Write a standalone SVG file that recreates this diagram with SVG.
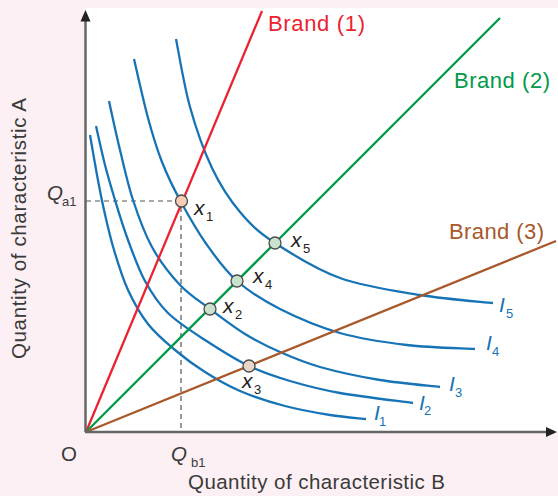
<svg xmlns="http://www.w3.org/2000/svg" width="558" height="496" viewBox="0 0 558 496">
<defs>
<style>
.curve{fill:none;stroke:#1673b6;stroke-width:2.3;stroke-linecap:butt}
.ray{fill:none;stroke-width:2.3}
.lbl{font-family:"Liberation Sans",Arial,sans-serif}
.ax{font-family:"Liberation Sans",Arial,sans-serif;font-size:20.5px;fill:#3a3a3a}
.it{font-style:italic}
.pt{stroke:#4a4a4a;stroke-width:1.3}
.dash{stroke:#555;stroke-width:1.2;stroke-dasharray:5 4;fill:none}
</style>
</defs>
<rect x="0" y="0" width="558" height="496" fill="#fdf0f4"/>
<rect x="85" y="8" width="473" height="424" fill="#ffffff"/>

<g id="guides">
<path class="dash" d="M86,201 H176"/>
<path class="dash" d="M181,207 V431"/>
</g>

<g id="indifference-curves">
<path id="I1" class="curve" d="M90,135 C91.2,141.7 94.7,162.5 97,175 C99.3,187.5 101.2,197.5 104,210 C106.8,222.5 110,236.7 114,250 C118,263.3 122.3,277.7 128,290 C133.7,302.3 140.2,314 148,324 C155.8,334 165.5,342 175,350 C184.5,358 194.2,365.2 205,372 C215.8,378.8 226.7,385.3 240,391 C253.3,396.7 270,402 285,406 C300,410 316.5,412.8 330,415 C343.5,417.2 360,418.3 366,419"/>
<path id="I2" class="curve" d="M96,126 C97.5,132.5 101.8,152.7 105,165 C108.2,177.3 111.2,187.5 115,200 C118.8,212.5 123,226.5 128,240 C133,253.5 138.3,268.8 145,281 C151.7,293.2 158,303.2 168,313 C178,322.8 191.5,331.2 205,340 C218.5,348.8 234.8,359.2 249,366 C263.2,372.8 274.8,376.5 290,381 C305.2,385.5 319.5,389.3 340,393 C360.5,396.7 400.8,401.3 413,403"/>
<path id="I3" class="curve" d="M109,101 C110.8,109.2 116,133.5 120,150 C124,166.5 127.7,183.8 133,200 C138.3,216.2 144.2,232.8 152,247 C159.8,261.2 170.3,274.7 180,285 C189.7,295.3 199.2,300.8 210,309 C220.8,317.2 233.3,326.8 245,334 C256.7,341.2 267.5,346.5 280,352 C292.5,357.5 303.3,362.3 320,367 C336.7,371.7 360,376.7 380,380 C400,383.3 430,385.8 440,387"/>
<path id="I4" class="curve" d="M134,59 C136.3,68.8 143.3,100.8 148,118 C152.7,135.2 156.5,148 162,162 C167.5,176 173.5,188.2 181,202 C188.5,215.8 197.7,231.8 207,245 C216.3,258.2 224.8,270.3 237,281 C249.2,291.7 262.8,300.3 280,309 C297.2,317.7 318.8,327 340,333 C361.2,339 384.5,342.3 407,345 C429.5,347.7 463.7,348.3 475,349"/>
<path id="I5" class="curve" d="M176,39 C178.3,50.3 184,85.5 190,107 C196,128.5 203.7,150.5 212,168 C220.3,185.5 229.5,199.5 240,212 C250.5,224.5 258.3,232 275,243 C291.7,254 315.8,269.3 340,278 C364.2,286.7 394.5,290.8 420,295 C445.5,299.2 480.8,301.7 493,303"/>
</g>

<g id="brand-rays">
<line id="brand1" class="ray" x1="86" y1="432" x2="262" y2="11" stroke="#ec2230"/>
<line id="brand2" class="ray" x1="86" y1="432" x2="500" y2="18" stroke="#009a4a"/>
<line id="brand3" class="ray" x1="86" y1="432" x2="556" y2="241" stroke="#a8582a"/>
</g>

<g id="axes">
<path d="M85.5,432 V20" stroke="#666" stroke-width="2.5" fill="none"/>
<path d="M85,432 H548" stroke="#666" stroke-width="2.5" fill="none"/>
<path d="M85.5,10 L80.5,21.5 L90.5,21.5 Z" fill="#222"/>
<path d="M557,432 L546,427 L546,437 Z" fill="#222"/>
</g>

<g id="points">
<g id="x1"><circle class="pt" cx="181.5" cy="201" r="6" fill="#f7cdb6"/><text class="lbl it" x="194" y="215" font-size="21" fill="#222">x<tspan font-style="normal" font-size="13" x="206" y="221">1</tspan></text></g>
<g id="x2"><circle class="pt" cx="210" cy="309" r="6" fill="#c9e2cd"/><text class="lbl it" x="223" y="313" font-size="21" fill="#222">x<tspan font-style="normal" font-size="13" x="235" y="319">2</tspan></text></g>
<g id="x3"><circle class="pt" cx="249" cy="366" r="6" fill="#ead6c8"/><text class="lbl it" x="242" y="388" font-size="21" fill="#222">x<tspan font-style="normal" font-size="13" x="254" y="394">3</tspan></text></g>
<g id="x4"><circle class="pt" cx="237" cy="281" r="6" fill="#c9e2cd"/><text class="lbl it" x="253" y="283" font-size="21" fill="#222">x<tspan font-style="normal" font-size="13" x="265" y="289">4</tspan></text></g>
<g id="x5"><circle class="pt" cx="275" cy="243" r="6" fill="#c9e2cd"/><text class="lbl it" x="291" y="247" font-size="21" fill="#222">x<tspan font-style="normal" font-size="13" x="303" y="253">5</tspan></text></g>
</g>

<g id="curve-labels" class="lbl" fill="#1673b6">
<text class="it" x="499" y="312" font-size="21">I<tspan font-style="normal" font-size="13" x="506" y="318">5</tspan></text>
<text class="it" x="486" y="350" font-size="21">I<tspan font-style="normal" font-size="13" x="492" y="356">4</tspan></text>
<text class="it" x="449" y="391" font-size="21">I<tspan font-style="normal" font-size="13" x="455" y="397">3</tspan></text>
<text class="it" x="419" y="410" font-size="21">I<tspan font-style="normal" font-size="13" x="424" y="415">2</tspan></text>
<text class="it" x="374" y="420" font-size="21">I<tspan font-style="normal" font-size="13" x="379" y="426">1</tspan></text>
</g>

<g id="brand-labels" class="lbl" font-size="22">
<text x="268" y="31" fill="#ec2230" textLength="97">Brand (1)</text>
<text x="454" y="88" fill="#009a4a" textLength="96">Brand (2)</text>
<text x="449" y="239" fill="#a8582a" textLength="95">Brand (3)</text>
</g>

<g id="axis-labels">
<text class="ax" x="61" y="461">O</text>
<text class="ax it" x="47" y="200">Q<tspan font-style="normal" font-size="13" x="62" y="206">a1</tspan></text>
<text class="ax it" x="171" y="461">Q<tspan font-style="normal" font-size="13" x="191" y="467">b1</tspan></text>
<text class="ax" x="188" y="489" textLength="257">Quantity of characteristic B</text>
<text class="ax" transform="translate(26,359) rotate(-90)" x="0" y="0" textLength="261">Quantity of characteristic A</text>
</g>
</svg>
